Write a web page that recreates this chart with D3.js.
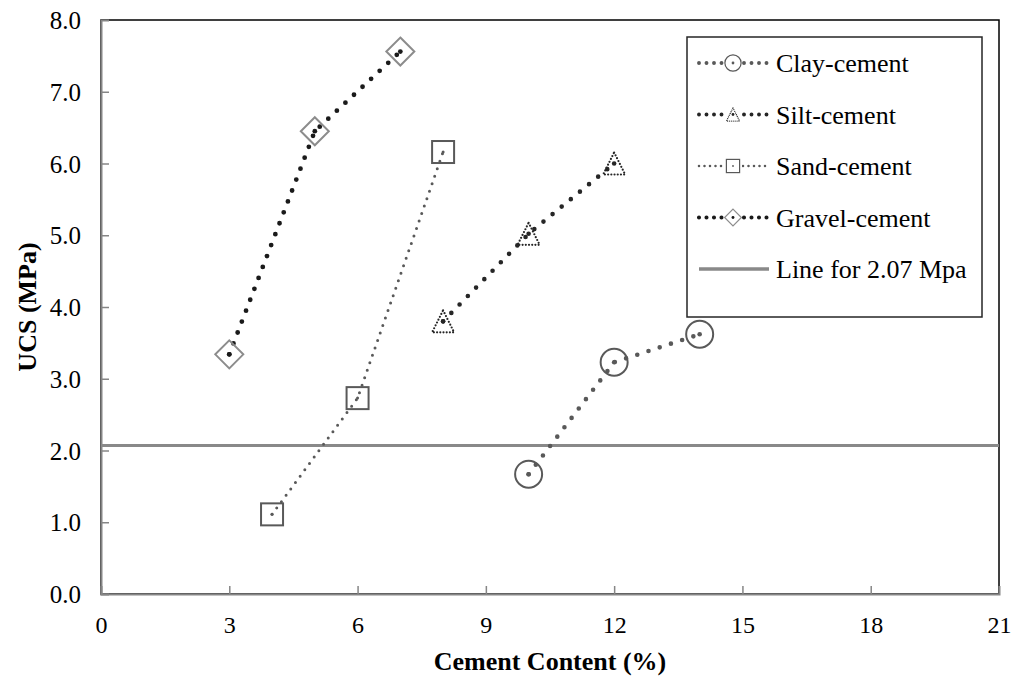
<!DOCTYPE html>
<html>
<head>
<meta charset="utf-8">
<script src="https://cdn.jsdelivr.net/npm/d3@7"></script>
<style>
  body { margin: 0; background: #fff; }
  svg text { font-family: "Liberation Serif", "Times New Roman", Times, serif; fill: #000; }
</style>
</head>
<body>
<svg id="chart" width="1016" height="680"></svg>
<script>
let series_names = ['Clay-cement', 'Silt-cement', 'Sand-cement', 'Gravel-cement'];
let clay_x = [10, 12, 14];
let clay_y = [1.67, 3.23, 3.62];
let silt_x = [8, 10, 12];
let silt_y = [3.8, 5.02, 6.0];
let sand_x = [4, 6, 8];
let sand_y = [1.11, 2.73, 6.16];
let gravel_x = [3, 5, 7];
let gravel_y = [3.34, 6.45, 7.56];
let limit_value = 2.07;
let limit_label = 'Line for 2.07 Mpa';
let x_ticks = [0, 3, 6, 9, 12, 15, 18, 21];
let y_ticks = [0, 1, 2, 3, 4, 5, 6, 7, 8];

let margin = {left: 101, right: 17, top: 20, bottom: 86};
let width = 1016, height = 680;
let serif = '"Liberation Serif", "Times New Roman", Times, serif';

let x = d3.scaleLinear().domain([0, 21]).range([margin.left, width - margin.right]);
let y = d3.scaleLinear().domain([0, 8]).range([height - margin.bottom, margin.top]);

let svg = d3.select('#chart');

// styles per series: line colour, dot size, dot spacing, marker
let styles = [
  {line: '#595959', w: 4.6, gap: 11.8, marker: 'circle', mstroke: '#595959', mdash: null},
  {line: '#262626', w: 4.6, gap: 11.8, marker: 'triangle', mstroke: '#262626', mdash: '0 3.2'},
  {line: '#595959', w: 3, gap: 7.9, marker: 'square', mstroke: '#595959', mdash: null},
  {line: '#1a1a1a', w: 4.8, gap: 11.7, marker: 'diamond', mstroke: '#8c8c8c', mdash: null}
];

let data = [
  d3.zip(clay_x, clay_y),
  d3.zip(silt_x, silt_y),
  d3.zip(sand_x, sand_y),
  d3.zip(gravel_x, gravel_y)
];

// plot frame
svg.append('rect')
  .attr('x', x(0)).attr('y', y(8))
  .attr('width', x(21) - x(0)).attr('height', y(0) - y(8))
  .attr('fill', 'none').attr('stroke', '#000').attr('stroke-width', 1.5);

// axes
let x_axis = svg.append('g')
  .attr('transform', `translate(0, ${y(0)})`)
  .call(d3.axisBottom(x).tickValues(x_ticks).tickSize(-8).tickPadding(22).tickFormat(d3.format('d')));
let y_axis = svg.append('g')
  .attr('transform', `translate(${x(0)}, 0)`)
  .call(d3.axisLeft(y).tickValues(y_ticks).tickSize(-8).tickPadding(20).tickFormat(d3.format('.1f')));

[x_axis, y_axis].forEach(function(a) {
  a.attr('font-family', serif);
  a.select('.domain').attr('stroke', '#868686').attr('stroke-width', 2);
  a.selectAll('.tick line').attr('stroke', '#868686').attr('stroke-width', 1.5);
});
x_axis.selectAll('.tick text').style('font-size', '24px').attr('dy', '0.71em');
y_axis.selectAll('.tick text').style('font-size', '25px').attr('dy', '0.34em');
x_axis.selectAll('.tick line').filter(d => d === 0 || d === 21).remove();
y_axis.selectAll('.tick line').filter(d => d === 0 || d === 8).remove();

// 2.07 MPa line
svg.append('line')
  .attr('x1', x(0)).attr('x2', x(21))
  .attr('y1', y(limit_value)).attr('y2', y(limit_value))
  .attr('stroke', '#898989').attr('stroke-width', 3);

function draw_marker(g, type, cx, cy, st) {
  let m;
  if (type === 'circle') {
    m = g.append('circle').attr('cx', cx).attr('cy', cy).attr('r', 13.5);
  } else if (type === 'square') {
    m = g.append('rect').attr('x', cx - 11).attr('y', cy - 11).attr('width', 22).attr('height', 22);
  } else if (type === 'triangle') {
    m = g.append('path').attr('d', `M${cx},${cy - 11}L${cx + 11},${cy + 11}L${cx - 11},${cy + 11}Z`);
  } else {
    m = g.append('path').attr('d', `M${cx},${cy - 14}L${cx + 14},${cy}L${cx},${cy + 14}L${cx - 14},${cy}Z`);
  }
  m.attr('fill', 'none').attr('stroke', st.mstroke).attr('stroke-width', st.marker === 'triangle' ? 2.2 : 2);
  if (st.mdash) m.attr('stroke-dasharray', st.mdash).attr('stroke-linecap', 'round');
  // centre dot
  g.append('circle').attr('cx', cx).attr('cy', cy).attr('r', st.w / 2).attr('fill', st.line);
}

let line = d3.line().x(d => x(d[0])).y(d => y(d[1]));

data.forEach(function(pts, i) {
  let st = styles[i];
  let g = svg.append('g').attr('class', 'series');
  g.append('path')
    .attr('d', line(pts))
    .attr('fill', 'none')
    .attr('stroke', st.line)
    .attr('stroke-width', st.w)
    .attr('stroke-linecap', 'round')
    .attr('stroke-dasharray', `0 ${st.gap}`);
  pts.forEach(p => draw_marker(g, st.marker, x(p[0]), y(p[1]), st));
});

// legend
let lg = svg.append('g').attr('transform', 'translate(687, 37)');
lg.append('rect').attr('width', 295).attr('height', 280)
  .attr('fill', '#fff').attr('stroke', '#262626').attr('stroke-width', 1.5);

series_names.forEach(function(name, i) {
  let st = styles[i];
  let cy = 26 + i * 51.5;
  let row = lg.append('g');
  row.append('line')
    .attr('x1', 12).attr('x2', 82).attr('y1', cy).attr('y2', cy)
    .attr('stroke', st.line).attr('stroke-width', st.w * 0.85)
    .attr('stroke-linecap', 'round')
    .attr('stroke-dasharray', `0 ${i === 2 ? 5.5 : 7.5}`);
  let sm = row.append('g').attr('transform', `translate(46, ${cy}) scale(0.6) translate(-46, ${-cy})`);
  sm.append('rect').attr('x', 46 - 15).attr('y', cy - 15).attr('width', 30).attr('height', 30).attr('fill', '#fff');
  draw_marker(sm, st.marker, 46, cy, st);
  row.append('text').attr('x', 89).attr('y', cy + 9)
    .style('font-size', '26px').text(name);
});
let ly = 26 + 4 * 51.5;
lg.append('line').attr('x1', 12).attr('x2', 82).attr('y1', ly).attr('y2', ly)
  .attr('stroke', '#898989').attr('stroke-width', 3.5);
lg.append('text').attr('x', 89).attr('y', ly + 9).style('font-size', '26px').text(limit_label);

// axis titles
svg.append('text')
  .attr('x', (x(0) + x(21)) / 2).attr('y', 670)
  .attr('text-anchor', 'middle')
  .style('font-size', '26px').style('font-weight', 'bold')
  .text('Cement Content (%)');
svg.append('text')
  .attr('transform', `translate(36, ${y(4)}) rotate(-90)`)
  .attr('text-anchor', 'middle')
  .style('font-size', '26px').style('font-weight', 'bold')
  .text('UCS (MPa)');
</script>
</body>
</html>
